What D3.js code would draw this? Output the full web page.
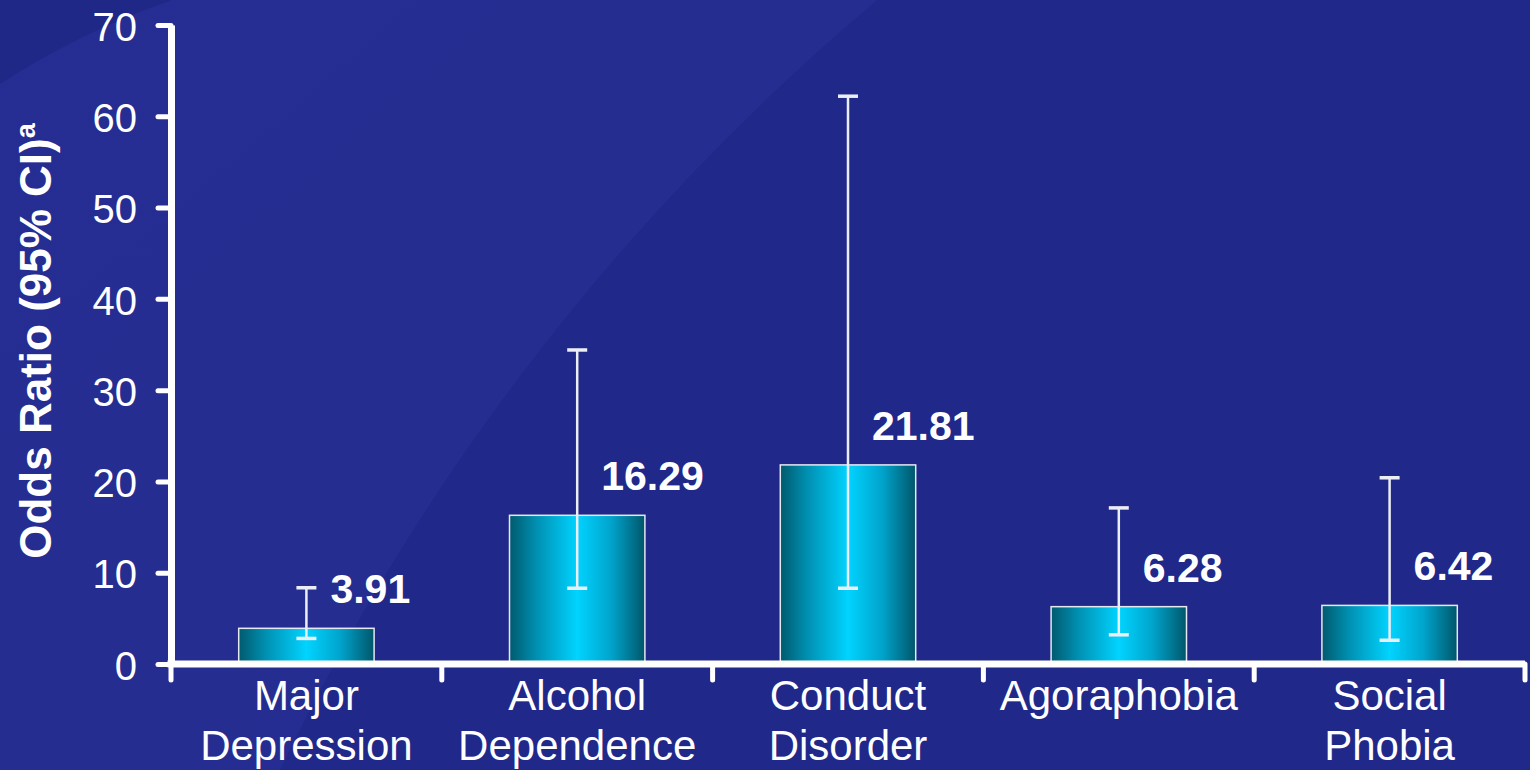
<!DOCTYPE html>
<html>
<head>
<meta charset="utf-8">
<script src="https://cdn.jsdelivr.net/npm/d3@7"></script>
<style>
  html, body { margin: 0; padding: 0; background: #20288a; overflow: hidden; }
  svg { display: block; font-family: "Liberation Sans", Arial, sans-serif; }
</style>
</head>
<body>
<svg id="chart" width="1530" height="770"></svg>
<script>
const categories = ["Major Depression", "Alcohol Dependence", "Conduct Disorder", "Agoraphobia", "Social Phobia"];
const oddsRatios = [3.91, 16.29, 21.81, 6.28, 6.42];
const ciLower = [2.8, 8.3, 8.3, 3.2, 2.6];
const ciUpper = [8.35, 34.4, 62.2, 17.1, 20.4];
const yTicks = [0, 10, 20, 30, 40, 50, 60, 70];
const yTitle = "Odds Ratio (95% CI)";
const yTitleSup = "a";

const W = 1530, H = 770;
const svg = d3.select("#chart");
const defs = svg.append("defs");

// background
svg.append("rect").attr("width", W).attr("height", H).attr("fill", "#20288a");
const swGrad = defs.append("linearGradient").attr("id", "swGrad")
  .attr("x1", "0%").attr("x2", "100%").attr("y1", "0%").attr("y2", "100%");
swGrad.append("stop").attr("offset", 0).attr("stop-color", "#2a3299").attr("stop-opacity", 0.55);
swGrad.append("stop").attr("offset", 0.6).attr("stop-color", "#2a3299").attr("stop-opacity", 0.5);
swGrad.append("stop").attr("offset", 1).attr("stop-color", "#2a3299").attr("stop-opacity", 0.25);
svg.append("path")
  .attr("d", `M0,0 L877,0 A2308,2308 0 0,0 280,770 L0,770 Z`)
  .attr("fill", "url(#swGrad)");
svg.append("path")
  .attr("d", `M0,0 L172,0 Q80,32 0,84 Z`)
  .attr("fill", "#1f2786").attr("opacity", 0.9);

// gradient for bars
const grad = defs.append("linearGradient").attr("id", "barGrad")
  .attr("x1", "0%").attr("x2", "100%").attr("y1", "0%").attr("y2", "0%");
[[0, "#005a6e"], [0.2, "#0090b2"], [0.5, "#00d4ff"], [0.75, "#00a4cc"], [1, "#00566a"]]
  .forEach(([o, c]) => grad.append("stop").attr("offset", o).attr("stop-color", c));

const x = d3.scaleBand().domain(categories).range([171, 1525]).paddingInner(0).paddingOuter(0);
const y = d3.scaleLinear().domain([0, 70]).range([664, 25]);
const bw = x.bandwidth();
const data = categories.map((c, i) => ({ c, v: oddsRatios[i], lo: ciLower[i], hi: ciUpper[i] }));

// bars
svg.append("g").selectAll("rect").data(data).join("rect")
  .attr("x", d => x(d.c) + bw * 0.25)
  .attr("width", bw * 0.5)
  .attr("y", d => y(d.v))
  .attr("height", d => y(0) - y(d.v))
  .attr("fill", "url(#barGrad)")
  .attr("stroke", "#e6e8f2").attr("stroke-width", 1.5);

// error bars
const eb = svg.append("g").attr("stroke", "#eceef6").attr("stroke-width", 2.5);
eb.selectAll("line.v").data(data).join("line").attr("class", "v")
  .attr("x1", d => x(d.c) + bw / 2).attr("x2", d => x(d.c) + bw / 2)
  .attr("y1", d => y(d.lo)).attr("y2", d => y(d.hi));
eb.selectAll("line.hi").data(data).join("line").attr("class", "hi")
  .attr("x1", d => x(d.c) + bw / 2 - 10).attr("x2", d => x(d.c) + bw / 2 + 10)
  .attr("y1", d => y(d.hi)).attr("y2", d => y(d.hi)).attr("stroke-width", 3.5);
eb.selectAll("line.lo").data(data).join("line").attr("class", "lo")
  .attr("x1", d => x(d.c) + bw / 2 - 10).attr("x2", d => x(d.c) + bw / 2 + 10)
  .attr("y1", d => y(d.lo)).attr("y2", d => y(d.lo)).attr("stroke-width", 3.5);

// value labels
svg.append("g").selectAll("text").data(data).join("text")
  .attr("x", d => x(d.c) + bw / 2 + 24)
  .attr("y", d => y(d.v) - 25)
  .attr("fill", "#ffffff").attr("font-size", 41).attr("font-weight", "bold")
  .text(d => d.v.toFixed(2));

// y axis
const yAxis = svg.append("g").attr("transform", "translate(171,0)")
  .call(d3.axisLeft(y).tickValues(yTicks).tickSize(13).tickSizeOuter(0).tickPadding(21));
yAxis.select(".domain").attr("stroke", "#ffffff").attr("stroke-width", 7);
yAxis.selectAll(".tick line").attr("stroke", "#ffffff").attr("stroke-width", 5).attr("stroke-linecap", "round");
yAxis.selectAll(".tick text").attr("fill", "#ffffff").attr("font-size", 40)
  .attr("font-family", "'Liberation Sans', Arial, sans-serif").attr("dy", "0.38em");

// x axis
const xg = svg.append("g");
xg.append("line").attr("x1", x.range()[0] - 3.5).attr("x2", x.range()[1])
  .attr("y1", y(0)).attr("y2", y(0)).attr("stroke", "#ffffff").attr("stroke-width", 7);
const bounds = categories.map(c => x(c)).concat([x(categories[categories.length - 1]) + bw]);
xg.selectAll("line.t").data(bounds).join("line").attr("class", "t")
  .attr("x1", d => d).attr("x2", d => d)
  .attr("y1", y(0)).attr("y2", y(0) + 16)
  .attr("stroke", "#ffffff").attr("stroke-width", 5).attr("stroke-linecap", "round");
const cl = xg.selectAll("text").data(categories).join("text")
  .attr("x", d => x(d) + bw / 2).attr("y", 710)
  .attr("text-anchor", "middle").attr("fill", "#ffffff").attr("font-size", 42);
cl.each(function(d) {
  const parts = d.split(" ");
  d3.select(this).selectAll("tspan").data(parts).join("tspan")
    .attr("x", x(d) + bw / 2).attr("dy", (p, i) => i === 0 ? 0 : 50).text(p => p);
});

// y title
const t = svg.append("text")
  .attr("transform", "translate(51,341) rotate(-90)")
  .attr("text-anchor", "middle").attr("fill", "#ffffff")
  .attr("font-size", 44).attr("font-weight", "bold");
t.append("tspan").text(yTitle);
t.append("tspan").attr("font-size", 27).attr("dy", -16).text(yTitleSup);
</script>
</body>
</html>
